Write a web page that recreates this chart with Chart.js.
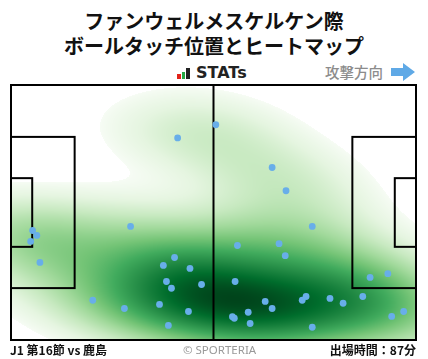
<!DOCTYPE html>
<html>
<head>
<meta charset="utf-8">
<script src="https://cdn.jsdelivr.net/npm/chart.js@4.4.0/dist/chart.umd.min.js"></script>
<style>
  body { margin: 0; width: 428px; height: 359px; overflow: hidden; background: #fff; position: relative;
         font-family: "Noto Sans CJK JP", "Noto Sans", sans-serif; }
  #pitch { position: absolute; left: 0; top: 0; }
  .title { position: absolute; left: 0; width: 428px; text-align: center; font-weight: 700;
           font-size: 20px; line-height: 25px; color: #111; white-space: nowrap; }
  .stats { position: absolute; left: 196px; top: 63px; font-family: "DejaVu Sans", sans-serif;
           font-weight: 700; font-size: 16px; color: #222; line-height: 20px; }
  .bar { position: absolute; width: 3.5px; }
  .dir { position: absolute; left: 325px; top: 62px; font-size: 14.5px; color: #8c8c8c; font-weight: 500; line-height: 20px; }
  .foot { position: absolute; top: 340px; line-height: 20px; white-space: nowrap; }
</style>
</head>
<body>
<div class="title" style="top:8px">ファンウェルメスケルケン際</div>
<div class="title" style="top:33px">ボールタッチ位置とヒートマップ</div>
<div class="bar" style="left:177px;top:74px;height:5px;background:#e2231a"></div>
<div class="bar" style="left:181.5px;top:71.5px;height:7.5px;background:#27a844"></div>
<div class="bar" style="left:186px;top:68px;height:11px;background:#222"></div>
<div class="stats">STATs</div>
<div class="dir">攻撃方向</div>
<svg style="position:absolute;left:390px;top:63px" width="26" height="18">
  <polygon points="1,5 13,5 13,0 25,9 13,18 13,13 1,13" fill="#5fa9e6"/>
</svg>
<canvas id="pitch" width="428" height="359"></canvas>
<div class="foot" style="left:10px;font-size:12px;font-weight:700;color:#111">J1 第16節 vs 鹿島</div>
<div class="foot" style="left:183px;font-size:11.5px;color:#999;font-family:'Noto Sans',sans-serif">© SPORTERIA</div>
<div class="foot" style="right:12px;font-size:12px;font-weight:700;color:#111">出場時間：87分</div>
<script>
// ball touch positions in metres (pitch 105 x 68, y measured from the top touchline)
const touchX = [43.2, 53.1, 67.7, 71.3, 5.6, 6.7, 5.1, 7.5, 31.0, 42.4, 39.5, 46.4, 40.3, 41.6,
  49.4, 38.5, 46.0, 40.8, 21.2, 29.4, 78.1, 58.7, 69.5, 71.1, 58.1, 93.1, 97.7, 76.5, 75.5,
  82.7, 86.1, 91.2, 65.9, 67.7, 61.5, 57.4, 57.9, 62.0, 78.1, 98.7, 101.8];
const touchY = [14.1, 10.6, 22.0, 28.2, 38.8, 40.1, 41.7, 47.3, 37.7, 46.0, 48.1, 48.9, 52.4, 54.2,
  53.2, 58.5, 60.4, 64.1, 57.4, 59.6, 37.7, 42.8, 42.3, 45.5, 52.4, 51.3, 50.3, 56.4, 57.4,
  56.9, 58.2, 56.4, 57.7, 59.6, 60.6, 61.8, 62.2, 63.6, 64.6, 61.7, 60.4];

const pitchLength = 105, pitchWidth = 68;
const boxDepth = 16.5, boxWidth = 40.32, goalAreaDepth = 5.5, goalAreaWidth = 18.32;

// matplotlib "Greens"
const greens = ["#f7fcf5", "#e5f5e0", "#c7e9c0", "#a1d99b", "#74c476", "#41ab5d", "#238b45", "#006d2c", "#00441b"]
  .map(h => [parseInt(h.slice(1, 3), 16), parseInt(h.slice(3, 5), 16), parseInt(h.slice(5, 7), 16)]);

function greenAt(t) {
  t = Math.max(0, Math.min(1, t)) * (greens.length - 1);
  const i = Math.min(Math.floor(t), greens.length - 2), f = t - i;
  return greens[i].map((c, k) => c + (greens[i + 1][k] - c) * f);
}

// gaussian KDE, Scott's rule bandwidth on the full covariance (like scipy / seaborn)
const n = touchX.length;
const meanX = touchX.reduce((a, b) => a + b) / n, meanY = touchY.reduce((a, b) => a + b) / n;
let sxx = 0, syy = 0, sxy = 0;
for (let i = 0; i < n; i++) {
  sxx += (touchX[i] - meanX) ** 2; syy += (touchY[i] - meanY) ** 2;
  sxy += (touchX[i] - meanX) * (touchY[i] - meanY);
}
const f2 = Math.pow(n, -1 / 3);
const adjX = 1.1, adjY = 1.05;
const cxx = sxx / (n - 1) * f2 * adjX * adjX, cyy = syy / (n - 1) * f2 * adjY * adjY;
const cxy = sxy / (n - 1) * f2 * adjX * adjY;
const det = cxx * cyy - cxy * cxy;
const ixx = cyy / det, iyy = cxx / det, ixy = -cxy / det;

function density(mx, my) {
  let s = 0;
  for (let i = 0; i < n; i++) {
    const dx = mx - touchX[i], dy = my - touchY[i];
    s += Math.exp(-0.5 * (ixx * dx * dx + 2 * ixy * dx * dy + iyy * dy * dy));
  }
  return s;
}

// lowest part of the probability mass is left unfilled
const thresh = 0.035;
function massLevel() {
  const bx = 3 * Math.sqrt(cxx), by = 3 * Math.sqrt(cyy);
  const vals = [];
  for (let gx = Math.min(...touchX) - bx; gx <= Math.max(...touchX) + bx; gx += 0.5)
    for (let gy = Math.min(...touchY) - by; gy <= Math.max(...touchY) + by; gy += 0.5)
      vals.push(density(gx, gy));
  vals.sort((a, b) => b - a);
  const total = vals.reduce((a, b) => a + b);
  let acc = 0;
  for (const v of vals) { acc += v; if (acc / total >= 1 - thresh) return v; }
  return 0;
}

const heatmap = {
  id: 'heatmap',
  beforeDatasetsDraw(chart) {
    const { ctx, chartArea: a, scales: { x, y } } = chart;
    const w = Math.round(a.width), h = Math.round(a.height);
    const vals = new Float32Array(w * h);
    let max = 0;
    for (let j = 0; j < h; j++) {
      const my = y.getValueForPixel(a.top + j + 0.5);
      for (let i = 0; i < w; i++) {
        const v = density(x.getValueForPixel(a.left + i + 0.5), my);
        vals[j * w + i] = v;
        if (v > max) max = v;
      }
    }
    const lo = massLevel();
    const off = document.createElement('canvas');
    off.width = w; off.height = h;
    const octx = off.getContext('2d');
    const img = octx.createImageData(w, h);
    for (let k = 0; k < vals.length; k++) {
      if (vals[k] < lo) continue;
      const c = greenAt(Math.pow((vals[k] - lo) / (max - lo), 0.75));
      img.data[k * 4] = c[0]; img.data[k * 4 + 1] = c[1]; img.data[k * 4 + 2] = c[2]; img.data[k * 4 + 3] = 255;
    }
    octx.putImageData(img, 0, 0);
    ctx.drawImage(off, a.left, a.top);

    // pitch markings
    const px = v => x.getPixelForValue(v), py = v => y.getPixelForValue(v);
    ctx.save();
    ctx.strokeStyle = '#000';
    ctx.lineWidth = 2;
    const box = (x0, x1, y0, y1) => ctx.strokeRect(px(x0), py(y0), px(x1) - px(x0), py(y1) - py(y0));
    box(0, pitchLength, 0, pitchWidth);
    const mid = pitchWidth / 2;
    box(0, boxDepth, mid - boxWidth / 2, mid + boxWidth / 2);
    box(0, goalAreaDepth, mid - goalAreaWidth / 2, mid + goalAreaWidth / 2);
    box(pitchLength - boxDepth, pitchLength, mid - boxWidth / 2, mid + boxWidth / 2);
    box(pitchLength - goalAreaDepth, pitchLength, mid - goalAreaWidth / 2, mid + goalAreaWidth / 2);
    ctx.beginPath();
    ctx.moveTo(px(pitchLength / 2), py(0));
    ctx.lineTo(px(pitchLength / 2), py(pitchWidth));
    ctx.stroke();
    ctx.restore();
  }
};

new Chart(document.getElementById('pitch'), {
  type: 'scatter',
  data: {
    datasets: [{
      data: touchX.map((v, i) => ({ x: v, y: touchY[i] })),
      backgroundColor: '#68aee9',
      borderWidth: 0,
      pointRadius: 3.4,
      clip: false
    }]
  },
  options: {
    responsive: false,
    animation: false,
    events: [],
    layout: { padding: { left: 11, top: 85, right: 12, bottom: 19 } },
    plugins: { legend: { display: false }, tooltip: { enabled: false } },
    scales: {
      x: { type: 'linear', min: 0, max: pitchLength, display: false },
      y: { type: 'linear', min: 0, max: pitchWidth, reverse: true, display: false }
    }
  },
  plugins: [heatmap]
});
</script>
</body>
</html>
